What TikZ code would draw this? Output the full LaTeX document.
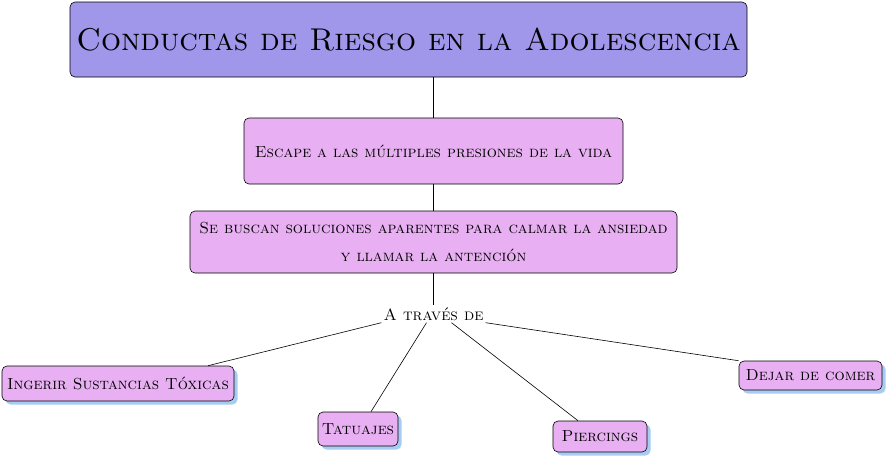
\documentclass[tikz,border=0pt]{standalone}
\usepackage{fontspec}
\usetikzlibrary{shadows}
\definecolor{titlefill}{HTML}{A096EA}
\definecolor{boxfill}{HTML}{E8B0F2}
\definecolor{shadowblue}{HTML}{A6CCF2}
\tikzset{
  x=1pt, y=-1pt,
  titlebox/.style={draw=black, fill=titlefill, rounded corners=5pt, line width=0.6pt,
    minimum width=677pt, minimum height=75pt, font=\fontsize{31.5}{36}\selectfont\scshape},
  conceptbox/.style={draw=black, fill=boxfill, rounded corners=5pt, line width=0.6pt,
    font=\fontsize{16}{28}\selectfont\scshape, align=center},
  leafbox/.style={conceptbox, drop shadow={shadow xshift=3.5pt, shadow yshift=-3.5pt, fill=shadowblue, opacity=1}},
  linktext/.style={font=\fontsize{16.4}{20}\selectfont\scshape, inner sep=2pt},
  conn/.style={draw=black, line width=0.6pt}
}
\begin{document}
\begin{tikzpicture}
\useasboundingbox (0,0) rectangle (888,459);
\node[titlebox] (title) at (408.5,39.5) {Conductas de Riesgo en la Adolescencia};
\node[conceptbox, minimum width=379pt, minimum height=66pt] (escape) at (433.5,151) {Escape a las múltiples presiones de la vida};
\node[conceptbox, minimum width=487pt, minimum height=62pt] (busca) at (433.5,242) {Se buscan soluciones aparentes para calmar la ansiedad\\y llamar la antención};
\node[linktext] (atraves) at (433.5,314) {A través de};
\node[leafbox, minimum width=232pt, minimum height=35pt] (ingerir) at (118,383.5) {Ingerir Sustancias Tóxicas};
\node[leafbox, minimum width=80pt, minimum height=34pt] (tatuajes) at (358,429) {Tatuajes};
\node[leafbox, minimum width=94pt, minimum height=31pt] (piercings) at (600,436.5) {Piercings};
\node[leafbox, minimum width=143pt, minimum height=29pt] (dejar) at (810.5,375.5) {Dejar de comer};
\draw[conn] (title.south -| escape.north) -- (escape.north);
\draw[conn] (escape.south) -- (busca.north);
\draw[conn] (busca.south) -- (atraves.north);
\draw[conn] (atraves.south west) -- ([xshift=90pt]ingerir.north);
\draw[conn] ([xshift=-7pt]atraves.south) -- ([xshift=13pt]tatuajes.north);
\draw[conn] ([xshift=18pt]atraves.south) -- ([xshift=-22pt]piercings.north);
\draw[conn] (atraves.south east) -- ([xshift=-72pt]dejar.north);
\end{tikzpicture}
\end{document}
